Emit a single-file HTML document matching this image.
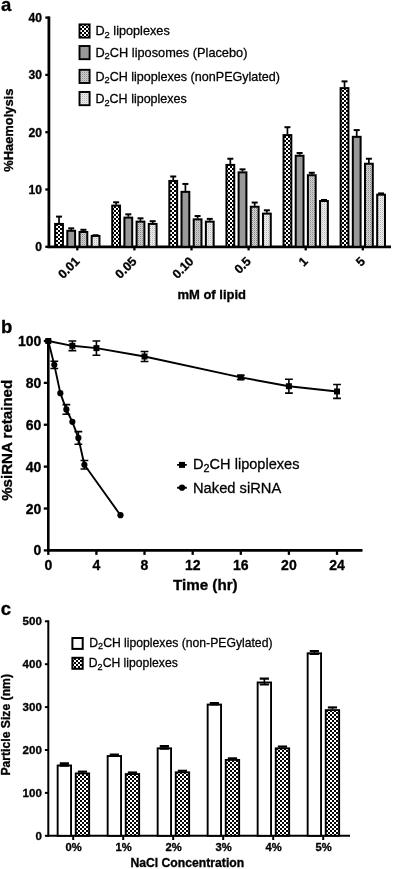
<!DOCTYPE html>
<html><head><meta charset="utf-8"><title>Figure</title>
<style>html,body{margin:0;padding:0;background:#fff}svg{display:block;filter:blur(0.38px)}</style></head>
<body>
<svg width="396" height="869" viewBox="0 0 396 869" font-family='"Liberation Sans", Arial, Helvetica, sans-serif' fill="#000">
<defs>
<pattern id="chk" width="4" height="4" patternUnits="userSpaceOnUse"><rect width="4" height="4" fill="#fff"/><rect x="0" y="0" width="2" height="2" fill="#000"/><rect x="2" y="2" width="2" height="2" fill="#000"/></pattern>
<pattern id="dg" width="2" height="2" patternUnits="userSpaceOnUse"><rect width="2" height="2" fill="#d2d2d2"/><rect width="1" height="1" fill="#8a8a8a"/><rect x="1" y="1" width="1" height="1" fill="#b4b4b4"/></pattern>
<pattern id="dl" width="2" height="2" patternUnits="userSpaceOnUse"><rect width="2" height="2" fill="#eee"/><rect width="1" height="1" fill="#b8b8b8"/><rect x="1" y="1" width="1" height="1" fill="#ddd"/></pattern>
</defs>
<rect width="396" height="869" fill="#fff"/>
<text x="1" y="11.3" font-size="18.5" text-anchor="start" font-weight="bold" stroke="#000" stroke-width="0.32">a</text>
<g stroke="#000" stroke-width="2.8" fill="none" stroke-linecap="butt">
<path d="M48.9 16.399 V248.100"/>
<path d="M47.6 246.8 H391"/>
</g>
<g stroke="#000" stroke-width="2.3" fill="none" stroke-linecap="butt">
<path d="M45.3 246.8 H48.9"/>
<path d="M45.3 189.5 H48.9"/>
<path d="M45.3 132.2 H48.9"/>
<path d="M45.3 74.9 H48.9"/>
<path d="M45.3 17.599 H48.9"/>
<path d="M77.3 246.8 v3.6"/>
<path d="M134.4 246.8 v3.6"/>
<path d="M191.5 246.8 v3.6"/>
<path d="M248.6 246.8 v3.6"/>
<path d="M305.7 246.8 v3.6"/>
<path d="M362.8 246.8 v3.6"/>
</g>
<text x="41.9" y="251.15" font-size="12.1" text-anchor="end" font-weight="bold" stroke="#000" stroke-width="0.32">0</text>
<text x="41.9" y="193.85" font-size="12.1" text-anchor="end" font-weight="bold" stroke="#000" stroke-width="0.32">10</text>
<text x="41.9" y="136.549" font-size="12.1" text-anchor="end" font-weight="bold" stroke="#000" stroke-width="0.32">20</text>
<text x="41.9" y="79.25" font-size="12.1" text-anchor="end" font-weight="bold" stroke="#000" stroke-width="0.32">30</text>
<text x="41.9" y="21.949" font-size="12.1" text-anchor="end" font-weight="bold" stroke="#000" stroke-width="0.32">40</text>
<text transform="translate(13.1,130.2) rotate(-90)" font-size="12.9" font-weight="bold" stroke="#000" stroke-width="0.32" text-anchor="middle">%Haemolysis</text>
<text x="211.7" y="299" font-size="13" text-anchor="middle" font-weight="bold" stroke="#000" stroke-width="0.32">mM of lipid</text>
<text transform="translate(80.3,262.1) rotate(-45)" font-size="12.4" font-weight="bold" stroke="#000" stroke-width="0.32" text-anchor="end">0.01</text>
<text transform="translate(137.4,262.1) rotate(-45)" font-size="12.4" font-weight="bold" stroke="#000" stroke-width="0.32" text-anchor="end">0.05</text>
<text transform="translate(194.5,262.1) rotate(-45)" font-size="12.4" font-weight="bold" stroke="#000" stroke-width="0.32" text-anchor="end">0.10</text>
<text transform="translate(251.6,262.1) rotate(-45)" font-size="12.4" font-weight="bold" stroke="#000" stroke-width="0.32" text-anchor="end">0.5</text>
<text transform="translate(308.7,262.1) rotate(-45)" font-size="12.4" font-weight="bold" stroke="#000" stroke-width="0.32" text-anchor="end">1</text>
<text transform="translate(365.8,262.1) rotate(-45)" font-size="12.4" font-weight="bold" stroke="#000" stroke-width="0.32" text-anchor="end">5</text>
<path d="M59.03 223.08 V216.60" stroke="#000" stroke-width="1.7" fill="none"/><path d="M56.03 216.60 H62.03" stroke="#000" stroke-width="2" fill="none"/>
<rect x="55.13" y="223.93" width="7.8" height="22.87" fill="url(#chk)" stroke="#000" stroke-width="2"/>
<path d="M71.21 229.95 V228.35" stroke="#000" stroke-width="1.7" fill="none"/><path d="M68.21 228.35 H74.21" stroke="#000" stroke-width="2" fill="none"/>
<rect x="67.31" y="230.80" width="7.8" height="16.00" fill="#999" stroke="#000" stroke-width="2"/>
<path d="M83.39 231.10 V229.78" stroke="#000" stroke-width="1.7" fill="none"/><path d="M80.39 229.78 H86.39" stroke="#000" stroke-width="2" fill="none"/>
<rect x="79.49" y="231.95" width="7.8" height="14.85" fill="url(#dg)" stroke="#000" stroke-width="2"/>
<path d="M95.57 235.11 V235.23" stroke="#000" stroke-width="1.7" fill="none"/><path d="M92.57 235.23 H98.57" stroke="#000" stroke-width="2" fill="none"/>
<rect x="91.67" y="235.96" width="7.8" height="10.84" fill="url(#dl)" stroke="#000" stroke-width="2"/>
<path d="M116.13 204.74 V202.28" stroke="#000" stroke-width="1.7" fill="none"/><path d="M113.13 202.28 H119.13" stroke="#000" stroke-width="2" fill="none"/>
<rect x="112.23" y="205.59" width="7.8" height="41.21" fill="url(#chk)" stroke="#000" stroke-width="2"/>
<path d="M128.31 216.77 V214.31" stroke="#000" stroke-width="1.7" fill="none"/><path d="M125.31 214.31 H131.31" stroke="#000" stroke-width="2" fill="none"/>
<rect x="124.41" y="217.62" width="7.8" height="29.18" fill="#999" stroke="#000" stroke-width="2"/>
<path d="M140.49 220.79 V218.32" stroke="#000" stroke-width="1.7" fill="none"/><path d="M137.49 218.32 H143.49" stroke="#000" stroke-width="2" fill="none"/>
<rect x="136.59" y="221.64" width="7.8" height="25.16" fill="url(#dg)" stroke="#000" stroke-width="2"/>
<path d="M152.67 223.08 V221.19" stroke="#000" stroke-width="1.7" fill="none"/><path d="M149.67 221.19 H155.67" stroke="#000" stroke-width="2" fill="none"/>
<rect x="148.77" y="223.93" width="7.8" height="22.87" fill="url(#dl)" stroke="#000" stroke-width="2"/>
<path d="M173.23 180.10 V176.49" stroke="#000" stroke-width="1.7" fill="none"/><path d="M170.23 176.49 H176.23" stroke="#000" stroke-width="2" fill="none"/>
<rect x="169.33" y="180.95" width="7.8" height="65.85" fill="url(#chk)" stroke="#000" stroke-width="2"/>
<path d="M185.41 190.99 V183.94" stroke="#000" stroke-width="1.7" fill="none"/><path d="M182.41 183.94 H188.41" stroke="#000" stroke-width="2" fill="none"/>
<rect x="181.51" y="191.84" width="7.8" height="54.96" fill="#999" stroke="#000" stroke-width="2"/>
<path d="M197.59 218.49 V216.03" stroke="#000" stroke-width="1.7" fill="none"/><path d="M194.59 216.03 H200.59" stroke="#000" stroke-width="2" fill="none"/>
<rect x="193.69" y="219.34" width="7.8" height="27.46" fill="url(#dg)" stroke="#000" stroke-width="2"/>
<path d="M209.77 220.79 V218.89" stroke="#000" stroke-width="1.7" fill="none"/><path d="M206.77 218.89 H212.77" stroke="#000" stroke-width="2" fill="none"/>
<rect x="205.87" y="221.64" width="7.8" height="25.16" fill="url(#dl)" stroke="#000" stroke-width="2"/>
<path d="M230.33 164.06 V158.73" stroke="#000" stroke-width="1.7" fill="none"/><path d="M227.33 158.73 H233.33" stroke="#000" stroke-width="2" fill="none"/>
<rect x="226.43" y="164.91" width="7.8" height="81.89" fill="url(#chk)" stroke="#000" stroke-width="2"/>
<path d="M242.51 171.51 V169.33" stroke="#000" stroke-width="1.7" fill="none"/><path d="M239.51 169.33 H245.51" stroke="#000" stroke-width="2" fill="none"/>
<rect x="238.61" y="172.36" width="7.8" height="74.44" fill="#999" stroke="#000" stroke-width="2"/>
<path d="M254.69 205.89 V202.56" stroke="#000" stroke-width="1.7" fill="none"/><path d="M251.69 202.56 H257.69" stroke="#000" stroke-width="2" fill="none"/>
<rect x="250.79" y="206.74" width="7.8" height="40.06" fill="url(#dg)" stroke="#000" stroke-width="2"/>
<path d="M266.87 212.76 V210.30" stroke="#000" stroke-width="1.7" fill="none"/><path d="M263.87 210.30 H269.87" stroke="#000" stroke-width="2" fill="none"/>
<rect x="262.97" y="213.61" width="7.8" height="33.19" fill="url(#dl)" stroke="#000" stroke-width="2"/>
<path d="M287.43 134.26 V127.21" stroke="#000" stroke-width="1.7" fill="none"/><path d="M284.43 127.21 H290.43" stroke="#000" stroke-width="2" fill="none"/>
<rect x="283.53" y="135.11" width="7.8" height="111.69" fill="url(#chk)" stroke="#000" stroke-width="2"/>
<path d="M299.61 154.89 V153.00" stroke="#000" stroke-width="1.7" fill="none"/><path d="M296.61 153.00 H302.61" stroke="#000" stroke-width="2" fill="none"/>
<rect x="295.71" y="155.74" width="7.8" height="91.06" fill="#999" stroke="#000" stroke-width="2"/>
<path d="M311.79 174.37 V172.77" stroke="#000" stroke-width="1.7" fill="none"/><path d="M308.79 172.77 H314.79" stroke="#000" stroke-width="2" fill="none"/>
<rect x="307.89" y="175.22" width="7.8" height="71.58" fill="url(#dg)" stroke="#000" stroke-width="2"/>
<path d="M323.97 200.16 V199.99" stroke="#000" stroke-width="1.7" fill="none"/><path d="M320.97 199.99 H326.97" stroke="#000" stroke-width="2" fill="none"/>
<rect x="320.07" y="201.01" width="7.8" height="45.79" fill="url(#dl)" stroke="#000" stroke-width="2"/>
<path d="M344.53 87.28 V81.37" stroke="#000" stroke-width="1.7" fill="none"/><path d="M341.53 81.37 H347.53" stroke="#000" stroke-width="2" fill="none"/>
<rect x="340.63" y="88.13" width="7.8" height="158.67" fill="url(#chk)" stroke="#000" stroke-width="2"/>
<path d="M356.71 135.98 V130.08" stroke="#000" stroke-width="1.7" fill="none"/><path d="M353.71 130.08 H359.71" stroke="#000" stroke-width="2" fill="none"/>
<rect x="352.81" y="136.83" width="7.8" height="109.97" fill="#999" stroke="#000" stroke-width="2"/>
<path d="M368.89 162.91 V158.73" stroke="#000" stroke-width="1.7" fill="none"/><path d="M365.89 158.73 H371.89" stroke="#000" stroke-width="2" fill="none"/>
<rect x="364.99" y="163.76" width="7.8" height="83.04" fill="url(#dg)" stroke="#000" stroke-width="2"/>
<path d="M381.07 193.85 V193.40" stroke="#000" stroke-width="1.7" fill="none"/><path d="M378.07 193.40 H384.07" stroke="#000" stroke-width="2" fill="none"/>
<rect x="377.17" y="194.70" width="7.8" height="52.10" fill="url(#dl)" stroke="#000" stroke-width="2"/>
<rect x="79.5" y="24.4" width="10.1" height="13.2" fill="url(#chk)" stroke="#000" stroke-width="1.9"/>
<text x="95.4" y="35.3" font-size="12.7" text-anchor="start" stroke="#000" stroke-width="0.28">D<tspan font-size="9.40" dy="2.67">2</tspan><tspan dy="-2.67"> lipoplexes</tspan></text>
<rect x="79.5" y="46.0" width="10.1" height="13.2" fill="#999" stroke="#000" stroke-width="1.9"/>
<text x="95.4" y="56.8" font-size="12.7" text-anchor="start" stroke="#000" stroke-width="0.28" textLength="152.0" lengthAdjust="spacingAndGlyphs">D<tspan font-size="9.40" dy="2.67">2</tspan><tspan dy="-2.67">CH liposomes (Placebo)</tspan></text>
<rect x="79.5" y="69.8" width="10.1" height="13.2" fill="url(#dg)" stroke="#000" stroke-width="1.9"/>
<text x="95.4" y="80.8" font-size="12.7" text-anchor="start" stroke="#000" stroke-width="0.28" textLength="184.6" lengthAdjust="spacingAndGlyphs">D<tspan font-size="9.40" dy="2.67">2</tspan><tspan dy="-2.67">CH lipoplexes (nonPEGylated)</tspan></text>
<rect x="79.5" y="92.0" width="10.1" height="13.2" fill="url(#dl)" stroke="#000" stroke-width="1.9"/>
<text x="95.4" y="103.1" font-size="12.7" text-anchor="start" stroke="#000" stroke-width="0.28" textLength="91.4" lengthAdjust="spacingAndGlyphs">D<tspan font-size="9.40" dy="2.67">2</tspan><tspan dy="-2.67">CH lipoplexes</tspan></text>
<text x="1" y="333" font-size="18.5" text-anchor="start" font-weight="bold" stroke="#000" stroke-width="0.32">b</text>
<g stroke="#000" stroke-width="2.6" fill="none">
<path d="M48.3 340.0 V551.699"/>
<path d="M47.0 550.4 H362.5"/>
</g>
<g stroke="#000" stroke-width="2.3" fill="none">
<path d="M43.8 550.4 H48.3"/>
<path d="M43.8 508.52 H48.3"/>
<path d="M43.8 466.64 H48.3"/>
<path d="M43.8 424.76 H48.3"/>
<path d="M43.8 382.88 H48.3"/>
<path d="M43.8 341.0 H48.3"/>
<path d="M48.3 550.4 v4.5"/>
<path d="M96.4 550.4 v4.5"/>
<path d="M144.5 550.4 v4.5"/>
<path d="M192.7 550.4 v4.5"/>
<path d="M240.8 550.4 v4.5"/>
<path d="M288.9 550.4 v4.5"/>
<path d="M337.0 550.4 v4.5"/>
</g>
<text x="41.3" y="555.4" font-size="14" text-anchor="end" font-weight="bold" stroke="#000" stroke-width="0.32">0</text>
<text x="41.3" y="513.52" font-size="14" text-anchor="end" font-weight="bold" stroke="#000" stroke-width="0.32">20</text>
<text x="41.3" y="471.64" font-size="14" text-anchor="end" font-weight="bold" stroke="#000" stroke-width="0.32">40</text>
<text x="41.3" y="429.76" font-size="14" text-anchor="end" font-weight="bold" stroke="#000" stroke-width="0.32">60</text>
<text x="41.3" y="387.88" font-size="14" text-anchor="end" font-weight="bold" stroke="#000" stroke-width="0.32">80</text>
<text x="41.3" y="346.0" font-size="14" text-anchor="end" font-weight="bold" stroke="#000" stroke-width="0.32">100</text>
<text x="48.3" y="570.0" font-size="14" text-anchor="middle" font-weight="bold" stroke="#000" stroke-width="0.32">0</text>
<text x="96.4" y="570.0" font-size="14" text-anchor="middle" font-weight="bold" stroke="#000" stroke-width="0.32">4</text>
<text x="144.5" y="570.0" font-size="14" text-anchor="middle" font-weight="bold" stroke="#000" stroke-width="0.32">8</text>
<text x="192.7" y="570.0" font-size="14" text-anchor="middle" font-weight="bold" stroke="#000" stroke-width="0.32">12</text>
<text x="240.8" y="570.0" font-size="14" text-anchor="middle" font-weight="bold" stroke="#000" stroke-width="0.32">16</text>
<text x="288.9" y="570.0" font-size="14" text-anchor="middle" font-weight="bold" stroke="#000" stroke-width="0.32">20</text>
<text x="337.0" y="570.0" font-size="14" text-anchor="middle" font-weight="bold" stroke="#000" stroke-width="0.32">24</text>
<text transform="translate(11.9,440.3) rotate(-90)" font-size="15.1" font-weight="bold" stroke="#000" stroke-width="0.32" text-anchor="middle">%siRNA retained</text>
<text x="205.3" y="590" font-size="15.2" text-anchor="middle" font-weight="bold" stroke="#000" stroke-width="0.32">Time (hr)</text>
<path d="M48.30 341.00 L72.36 345.82 L96.42 348.12 L144.54 356.50 L240.78 377.44 L288.90 386.23 L337.02 391.47" stroke="#000" stroke-width="1.9" fill="none" stroke-linejoin="round"/>
<rect x="45.30" y="338.00" width="6" height="6"/>
<path d="M72.36 341.00 V350.63 M68.46 341.00 h7.8 M68.46 350.63 h7.8" stroke="#000" stroke-width="1.6" fill="none"/>
<rect x="69.36" y="342.82" width="6" height="6"/>
<path d="M96.42 341.00 V355.24 M92.52 341.00 h7.8 M92.52 355.24 h7.8" stroke="#000" stroke-width="1.6" fill="none"/>
<rect x="93.42" y="345.12" width="6" height="6"/>
<path d="M144.54 351.47 V361.52 M140.64 351.47 h7.8 M140.64 361.52 h7.8" stroke="#000" stroke-width="1.6" fill="none"/>
<rect x="141.54" y="353.50" width="6" height="6"/>
<path d="M240.78 375.34 V379.53 M236.88 375.34 h7.8 M236.88 379.53 h7.8" stroke="#000" stroke-width="1.6" fill="none"/>
<rect x="237.78" y="374.44" width="6" height="6"/>
<path d="M288.90 379.32 V393.14 M285.00 379.32 h7.8 M285.00 393.14 h7.8" stroke="#000" stroke-width="1.6" fill="none"/>
<rect x="285.90" y="383.23" width="6" height="6"/>
<path d="M337.02 384.56 V398.38 M333.12 384.56 h7.8 M333.12 398.38 h7.8" stroke="#000" stroke-width="1.6" fill="none"/>
<rect x="334.02" y="388.47" width="6" height="6"/>
<path d="M48.30 341.00 L54.31 364.87 L60.33 393.14 L66.34 409.47 L72.36 421.83 L78.38 437.95 L84.39 464.76 L120.48 515.22" stroke="#000" stroke-width="1.9" fill="none" stroke-linejoin="round"/>
<circle cx="48.30" cy="341.00" r="3.1"/>
<path d="M54.31 361.31 V368.43 M50.41 361.31 h7.8 M50.41 368.43 h7.8" stroke="#000" stroke-width="1.6" fill="none"/>
<circle cx="54.31" cy="364.87" r="3.1"/>
<circle cx="60.33" cy="393.14" r="3.1"/>
<path d="M66.34 404.66 V414.29 M62.45 404.66 h7.8 M62.45 414.29 h7.8" stroke="#000" stroke-width="1.6" fill="none"/>
<circle cx="66.34" cy="409.47" r="3.1"/>
<circle cx="72.36" cy="421.83" r="3.1"/>
<path d="M78.38 431.67 V444.23 M74.47 431.67 h7.8 M74.47 444.23 h7.8" stroke="#000" stroke-width="1.6" fill="none"/>
<circle cx="78.38" cy="437.95" r="3.1"/>
<path d="M84.39 460.57 V468.94 M80.49 460.57 h7.8 M80.49 468.94 h7.8" stroke="#000" stroke-width="1.6" fill="none"/>
<circle cx="84.39" cy="464.76" r="3.1"/>
<circle cx="120.48" cy="515.22" r="3.1"/>
<path d="M177.1 464.9 h9.7 M177.1 487.7 h9.7" stroke="#000" stroke-width="1.9"/>
<rect x="179" y="461.9" width="6" height="6"/>
<circle cx="182" cy="487.7" r="3.1"/>
<text x="193" y="469.4" font-size="14.7" text-anchor="start" stroke="#000" stroke-width="0.28" textLength="106.5" lengthAdjust="spacingAndGlyphs">D<tspan font-size="10.88" dy="3.09">2</tspan><tspan dy="-3.09">CH lipoplexes</tspan></text>
<text x="193" y="492.5" font-size="14.7" text-anchor="start" stroke="#000" stroke-width="0.28" textLength="88.3" lengthAdjust="spacingAndGlyphs">Naked siRNA</text>
<text x="0.7" y="615.2" font-size="18.5" text-anchor="start" font-weight="bold" stroke="#000" stroke-width="0.32">c</text>
<g stroke="#000" stroke-width="2" fill="none">
<path d="M48.3 620.3 V836.8"/>
<path d="M47.3 835.8 H350"/>
<path d="M44.9 835.8 H48.3"/>
<path d="M44.9 792.9 H48.3"/>
<path d="M44.9 750.0 H48.3"/>
<path d="M44.9 707.099 H48.3"/>
<path d="M44.9 664.199 H48.3"/>
<path d="M44.9 621.3 H48.3"/>
<path d="M73.2 835.8 v4.2"/>
<path d="M123.2 835.8 v4.2"/>
<path d="M173.2 835.8 v4.2"/>
<path d="M223.2 835.8 v4.2"/>
<path d="M273.2 835.8 v4.2"/>
<path d="M323.2 835.8 v4.2"/>
</g>
<text x="41.8" y="839.9" font-size="11.5" text-anchor="end" font-weight="bold" stroke="#000" stroke-width="0.32">0</text>
<text x="41.8" y="797.0" font-size="11.5" text-anchor="end" font-weight="bold" stroke="#000" stroke-width="0.32">100</text>
<text x="41.8" y="754.1" font-size="11.5" text-anchor="end" font-weight="bold" stroke="#000" stroke-width="0.32">200</text>
<text x="41.8" y="711.199" font-size="11.5" text-anchor="end" font-weight="bold" stroke="#000" stroke-width="0.32">300</text>
<text x="41.8" y="668.3" font-size="11.5" text-anchor="end" font-weight="bold" stroke="#000" stroke-width="0.32">400</text>
<text x="41.8" y="625.4" font-size="11.5" text-anchor="end" font-weight="bold" stroke="#000" stroke-width="0.32">500</text>
<text transform="translate(9.8,724.8) rotate(-90)" font-size="12.2" font-weight="bold" stroke="#000" stroke-width="0.32" text-anchor="middle">Particle Size (nm)</text>
<text x="187.3" y="866.6" font-size="12.2" text-anchor="middle" font-weight="bold" stroke="#000" stroke-width="0.32">NaCl Concentration</text>
<text x="73.7" y="851.2" font-size="11.2" text-anchor="middle" font-weight="bold" stroke="#000" stroke-width="0.32">0%</text>
<rect x="57.65" y="765.49" width="13.4" height="70.31" fill="#fff" stroke="#000" stroke-width="1.9"/>
<path d="M64.35 765.70 V763.47" stroke="#000" stroke-width="1.6" fill="none"/><path d="M59.75 763.47 h9.2 M59.75 765.70 h9.2" stroke="#000" stroke-width="2.2" fill="none"/>
<path d="M82.45 772.52 V771.66" stroke="#000" stroke-width="1.6" fill="none"/><path d="M77.85 771.66 h9.2" stroke="#000" stroke-width="2.2" fill="none"/>
<rect x="75.75" y="773.42" width="13.4" height="62.38" fill="url(#chk)" stroke="#000" stroke-width="1.9"/>
<text x="123.7" y="851.2" font-size="11.2" text-anchor="middle" font-weight="bold" stroke="#000" stroke-width="0.32">1%</text>
<rect x="107.65" y="756.05" width="13.4" height="79.75" fill="#fff" stroke="#000" stroke-width="1.9"/>
<path d="M114.35 755.66 V754.63" stroke="#000" stroke-width="1.6" fill="none"/><path d="M109.75 754.63 h9.2 M109.75 755.66 h9.2" stroke="#000" stroke-width="2.2" fill="none"/>
<path d="M132.45 773.17 V772.52" stroke="#000" stroke-width="1.6" fill="none"/><path d="M127.85 772.52 h9.2" stroke="#000" stroke-width="2.2" fill="none"/>
<rect x="125.75" y="774.07" width="13.4" height="61.73" fill="url(#chk)" stroke="#000" stroke-width="1.9"/>
<text x="173.7" y="851.2" font-size="11.2" text-anchor="middle" font-weight="bold" stroke="#000" stroke-width="0.32">2%</text>
<rect x="157.65" y="748.33" width="13.4" height="87.47" fill="#fff" stroke="#000" stroke-width="1.9"/>
<path d="M164.35 748.63 V746.22" stroke="#000" stroke-width="1.6" fill="none"/><path d="M159.75 746.22 h9.2 M159.75 748.63 h9.2" stroke="#000" stroke-width="2.2" fill="none"/>
<path d="M182.45 771.45 V770.81" stroke="#000" stroke-width="1.6" fill="none"/><path d="M177.85 770.81 h9.2" stroke="#000" stroke-width="2.2" fill="none"/>
<rect x="175.75" y="772.35" width="13.4" height="63.45" fill="url(#chk)" stroke="#000" stroke-width="1.9"/>
<text x="223.7" y="851.2" font-size="11.2" text-anchor="middle" font-weight="bold" stroke="#000" stroke-width="0.32">3%</text>
<rect x="207.65" y="704.57" width="13.4" height="131.23" fill="#fff" stroke="#000" stroke-width="1.9"/>
<path d="M214.35 704.35 V702.98" stroke="#000" stroke-width="1.6" fill="none"/><path d="M209.75 702.98 h9.2 M209.75 704.35 h9.2" stroke="#000" stroke-width="2.2" fill="none"/>
<path d="M232.45 759.01 V758.37" stroke="#000" stroke-width="1.6" fill="none"/><path d="M227.85 758.37 h9.2" stroke="#000" stroke-width="2.2" fill="none"/>
<rect x="225.75" y="759.91" width="13.4" height="75.89" fill="url(#chk)" stroke="#000" stroke-width="1.9"/>
<text x="273.7" y="851.2" font-size="11.2" text-anchor="middle" font-weight="bold" stroke="#000" stroke-width="0.32">4%</text>
<rect x="257.65" y="682.47" width="13.4" height="153.33" fill="#fff" stroke="#000" stroke-width="1.9"/>
<path d="M264.35 684.49 V678.66" stroke="#000" stroke-width="1.6" fill="none"/><path d="M259.75 678.66 h9.2 M259.75 684.49 h9.2" stroke="#000" stroke-width="2.2" fill="none"/>
<path d="M282.45 747.43 V746.57" stroke="#000" stroke-width="1.6" fill="none"/><path d="M277.85 746.57 h9.2" stroke="#000" stroke-width="2.2" fill="none"/>
<rect x="275.75" y="748.33" width="13.4" height="87.47" fill="url(#chk)" stroke="#000" stroke-width="1.9"/>
<text x="323.7" y="851.2" font-size="11.2" text-anchor="middle" font-weight="bold" stroke="#000" stroke-width="0.32">5%</text>
<rect x="307.65" y="653.30" width="13.4" height="182.50" fill="#fff" stroke="#000" stroke-width="1.9"/>
<path d="M314.35 653.82 V650.99" stroke="#000" stroke-width="1.6" fill="none"/><path d="M309.75 650.99 h9.2 M309.75 653.82 h9.2" stroke="#000" stroke-width="2.2" fill="none"/>
<path d="M332.45 709.25 V707.44" stroke="#000" stroke-width="1.6" fill="none"/><path d="M327.85 707.44 h9.2" stroke="#000" stroke-width="2.2" fill="none"/>
<rect x="325.75" y="710.14" width="13.4" height="125.65" fill="url(#chk)" stroke="#000" stroke-width="1.9"/>
<rect x="72.4" y="638" width="10.3" height="10.9" fill="#fff" stroke="#000" stroke-width="2"/>
<rect x="72.4" y="657.8" width="10.3" height="11" fill="url(#chk)" stroke="#000" stroke-width="2"/>
<text x="89.3" y="646.6" font-size="12.2" text-anchor="start" stroke="#000" stroke-width="0.28">D<tspan font-size="9.03" dy="2.56">2</tspan><tspan dy="-2.56">CH lipoplexes (non-PEGylated)</tspan></text>
<text x="88.8" y="667.2" font-size="12.2" text-anchor="start" stroke="#000" stroke-width="0.28">D<tspan font-size="9.03" dy="2.56">2</tspan><tspan dy="-2.56">CH lipoplexes</tspan></text>
</svg>
</body></html>
